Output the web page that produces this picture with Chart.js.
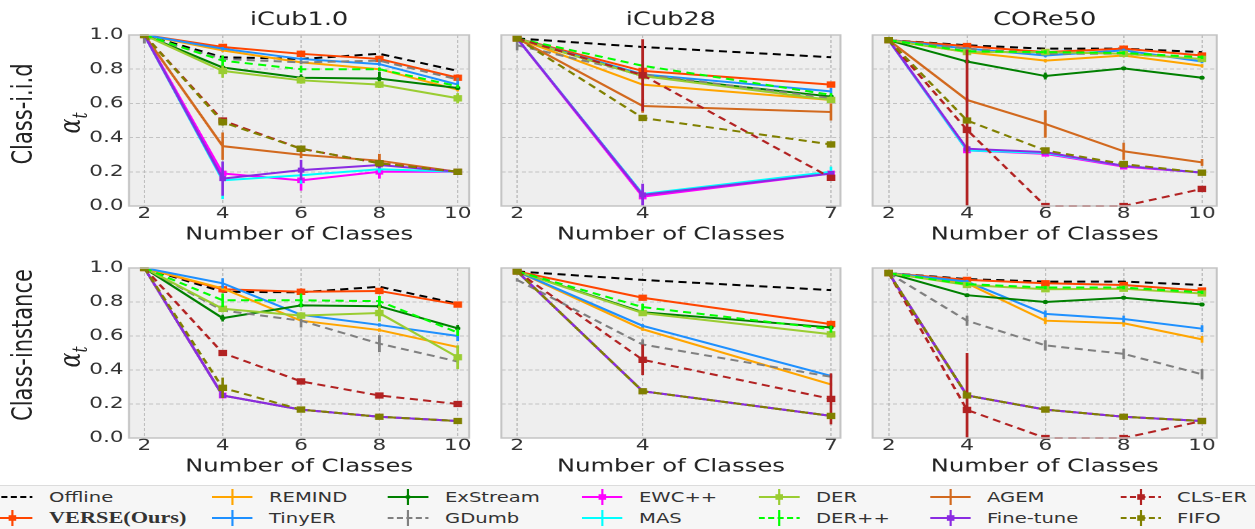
<!DOCTYPE html>
<html>
<head>
<meta charset="utf-8">
<script src="https://cdn.jsdelivr.net/npm/chart.js@4.4.1/dist/chart.umd.min.js"></script>
<style>
  html, body { margin: 0; padding: 0; background: #fff; overflow: hidden; }
  #fig { position: absolute; left: 0; top: 0; width: 930px; height: 529px;
         transform: scaleX(1.35); transform-origin: 0 0; font-family: 'DejaVu Sans'; color: #222; }
  #fig canvas { position: absolute; }
  .rowlabel { position: absolute; white-space: nowrap; font-size: 21px;
              transform: translate(-50%, -50%) rotate(-90deg); }
  .alpha { position: absolute; white-space: nowrap; font-family: 'DejaVu Serif'; font-style: italic;
           font-size: 22px; transform: translate(-50%, -50%) rotate(-90deg); }
  .alpha sub { font-size: 15px; }
  #legend { position: absolute; left: 0; top: 485px; width: 930px; height: 44px;
            background: #f6f6f6; border-top: 1px solid #dcdcdc; }
  .lgtext { position: absolute; white-space: nowrap; font-size: 14.5px; color: #333; line-height: 20px; }
  .lgicon { position: absolute; }
</style>
</head>
<body>
<div id="fig"><div id="legend"></div></div>
<script>
const methods = ['Offline', 'VERSE(Ours)', 'REMIND', 'TinyER', 'ExStream', 'GDumb', 'EWC++',
                 'MAS', 'DER', 'DER++', 'AGEM', 'Fine-tune', 'CLS-ER', 'FIFO'];
const classes10 = [2, 4, 6, 8, 10];
const classes7 = [2, 4, 7];
const yTicks = [0, 0.2, 0.4, 0.6, 0.8, 1.0];
const titles = ['iCub1.0', 'iCub28', 'CORe50'];
const settings = ['Class-i.i.d', 'Class-instance'];

// accuracy, one row per method (same order as methods)
const iidICub10 = [
  [1.00, 0.87, 0.86, 0.89, 0.79],
  [1.00, 0.93, 0.89, 0.86, 0.75],
  [1.00, 0.91, 0.84, 0.80, 0.68],
  [1.00, 0.92, 0.86, 0.83, 0.71],
  [1.00, 0.81, 0.75, 0.745, 0.69],
  [0.99, 0.86, 0.84, 0.85, 0.74],
  [1.00, 0.19, 0.15, 0.20, 0.20],
  [1.00, 0.15, 0.18, 0.215, 0.20],
  [1.00, 0.79, 0.735, 0.71, 0.63],
  [1.00, 0.85, 0.80, 0.80, 0.70],
  [1.00, 0.35, 0.30, 0.265, 0.20],
  [1.00, 0.16, 0.21, 0.24, 0.20],
  [1.00, 0.50, 0.335, 0.25, 0.20],
  [1.00, 0.49, 0.335, 0.25, 0.20]
];
const iidICub10Err = [
  [0, 0, 0, 0, 0],
  [0, 0.01, 0.01, 0.01, 0.02],
  [0, 0.01, 0.01, 0.01, 0.01],
  [0, 0.01, 0.01, 0.01, 0.02],
  [0, 0.02, 0.02, 0.04, 0.01],
  [0.04, 0.01, 0.01, 0.01, 0.01],
  [0, 0.03, 0.06, 0.04, 0.01],
  [0, 0.11, 0.05, 0.02, 0.01],
  [0, 0.04, 0.02, 0.02, 0.03],
  [0, 0.03, 0.02, 0.01, 0.01],
  [0, 0.08, 0.02, 0.04, 0.01],
  [0, 0.10, 0.06, 0.02, 0.01],
  [0, 0.01, 0.01, 0.02, 0.01],
  [0, 0.02, 0.01, 0.01, 0.01]
];

const iidICub28 = [
  [0.98, 0.93, 0.87],
  [0.98, 0.79, 0.71],
  [0.98, 0.71, 0.62],
  [0.98, 0.77, 0.67],
  [0.98, 0.76, 0.64],
  [0.94, 0.77, 0.63],
  [0.98, 0.055, 0.19],
  [0.98, 0.07, 0.20],
  [0.98, 0.76, 0.62],
  [0.98, 0.82, 0.65],
  [0.98, 0.585, 0.55],
  [0.98, 0.065, 0.19],
  [0.98, 0.765, 0.165],
  [0.98, 0.515, 0.36]
];
const iidICub28Err = [
  [0, 0, 0],
  [0, 0.01, 0.01],
  [0, 0.01, 0.01],
  [0, 0.01, 0.02],
  [0, 0.01, 0.01],
  [0.03, 0.01, 0.01],
  [0, 0.01, 0.01],
  [0, 0.02, 0.03],
  [0, 0.01, 0.01],
  [0, 0.01, 0.01],
  [0, 0.04, 0.05],
  [0, 0.065, 0.01],
  [0, 0.21, 0.01],
  [0, 0.01, 0.01]
];

const iidCore50 = [
  [0.97, 0.94, 0.92, 0.92, 0.90],
  [0.97, 0.935, 0.90, 0.92, 0.88],
  [0.97, 0.90, 0.85, 0.88, 0.82],
  [0.97, 0.92, 0.88, 0.91, 0.845],
  [0.97, 0.845, 0.76, 0.805, 0.75],
  [0.97, 0.92, 0.89, 0.89, 0.86],
  [0.97, 0.325, 0.305, 0.23, 0.195],
  [0.97, 0.325, 0.31, 0.235, 0.195],
  [0.97, 0.90, 0.90, 0.89, 0.86],
  [0.97, 0.905, 0.90, 0.895, 0.87],
  [0.97, 0.62, 0.48, 0.32, 0.255],
  [0.97, 0.335, 0.315, 0.235, 0.195],
  [0.97, 0.445, 0.00, 0.00, 0.10],
  [0.97, 0.50, 0.325, 0.245, 0.195]
];
const iidCore50Err = [
  [0, 0, 0, 0, 0],
  [0, 0.01, 0.01, 0.01, 0.01],
  [0, 0.01, 0.01, 0.01, 0.01],
  [0, 0.01, 0.01, 0.01, 0.01],
  [0, 0.01, 0.02, 0.01, 0.01],
  [0, 0.01, 0.01, 0.01, 0.01],
  [0, 0.01, 0.01, 0.01, 0.01],
  [0, 0.01, 0.01, 0.01, 0.01],
  [0, 0.01, 0.01, 0.01, 0.01],
  [0, 0.01, 0.01, 0.01, 0.01],
  [0, 0.01, 0.08, 0.05, 0.02],
  [0, 0.02, 0.01, 0.01, 0.01],
  [0, 0.47, 0, 0, 0.01],
  [0, 0.01, 0.01, 0.01, 0.01]
];

const instICub10 = [
  [1.00, 0.86, 0.857, 0.89, 0.79],
  [1.00, 0.875, 0.86, 0.865, 0.785],
  [1.00, 0.88, 0.69, 0.635, 0.535],
  [1.00, 0.91, 0.725, 0.665, 0.60],
  [1.00, 0.705, 0.78, 0.775, 0.645],
  [1.00, 0.75, 0.69, 0.555, 0.45],
  [1.00, 0.25, 0.167, 0.125, 0.10],
  [1.00, 0.25, 0.167, 0.125, 0.10],
  [1.00, 0.76, 0.72, 0.735, 0.475],
  [1.00, 0.81, 0.81, 0.805, 0.62],
  [1.00, 0.25, 0.167, 0.125, 0.10],
  [1.00, 0.25, 0.167, 0.125, 0.10],
  [1.00, 0.50, 0.333, 0.25, 0.20],
  [1.00, 0.295, 0.167, 0.125, 0.10]
];
const instICub10Err = [
  [0, 0, 0, 0, 0],
  [0, 0.02, 0.02, 0.01, 0.01],
  [0, 0.01, 0.01, 0.01, 0.01],
  [0, 0.03, 0.01, 0.01, 0.03],
  [0, 0.02, 0.01, 0.01, 0.02],
  [0, 0.01, 0.04, 0.05, 0.01],
  [0, 0.01, 0.01, 0.01, 0.01],
  [0, 0.01, 0.01, 0.01, 0.01],
  [0, 0.02, 0.02, 0.05, 0.07],
  [0, 0.04, 0.04, 0.03, 0.02],
  [0, 0.01, 0.01, 0.01, 0.01],
  [0, 0.01, 0.01, 0.01, 0.01],
  [0, 0.01, 0.01, 0.01, 0.01],
  [0, 0.06, 0.01, 0.01, 0.01]
];

const instICub28 = [
  [0.98, 0.93, 0.87],
  [0.98, 0.825, 0.67],
  [0.98, 0.64, 0.315],
  [0.98, 0.66, 0.365],
  [0.98, 0.74, 0.65],
  [0.93, 0.55, 0.36],
  [0.98, 0.275, 0.13],
  [0.98, 0.275, 0.13],
  [0.98, 0.735, 0.61],
  [0.98, 0.77, 0.64],
  [0.98, 0.275, 0.13],
  [0.98, 0.275, 0.13],
  [0.98, 0.46, 0.23],
  [0.98, 0.275, 0.13]
];
const instICub28Err = [
  [0, 0, 0],
  [0, 0.01, 0.02],
  [0, 0.01, 0.01],
  [0, 0.01, 0.01],
  [0, 0.01, 0.01],
  [0.01, 0.03, 0.01],
  [0, 0.01, 0.01],
  [0, 0.01, 0.01],
  [0, 0.01, 0.02],
  [0, 0.02, 0.02],
  [0, 0.01, 0.01],
  [0, 0.01, 0.01],
  [0, 0.09, 0.15],
  [0, 0.01, 0.01]
];

const instCore50 = [
  [0.97, 0.935, 0.92, 0.92, 0.90],
  [0.97, 0.93, 0.91, 0.90, 0.867],
  [0.97, 0.91, 0.69, 0.675, 0.58],
  [0.97, 0.92, 0.73, 0.70, 0.643],
  [0.97, 0.84, 0.80, 0.825, 0.785],
  [0.97, 0.69, 0.545, 0.495, 0.375],
  [0.97, 0.25, 0.167, 0.125, 0.10],
  [0.97, 0.25, 0.167, 0.125, 0.10],
  [0.97, 0.90, 0.875, 0.878, 0.85],
  [0.97, 0.905, 0.885, 0.885, 0.857],
  [0.97, 0.25, 0.167, 0.125, 0.10],
  [0.97, 0.25, 0.167, 0.125, 0.10],
  [0.97, 0.165, 0.00, 0.00, 0.10],
  [0.97, 0.25, 0.167, 0.125, 0.10]
];
const instCore50Err = [
  [0, 0, 0, 0, 0],
  [0, 0.01, 0.01, 0.01, 0.01],
  [0, 0.01, 0.02, 0.02, 0.02],
  [0, 0.01, 0.02, 0.02, 0.02],
  [0, 0.01, 0.01, 0.01, 0.01],
  [0, 0.03, 0.03, 0.03, 0.03],
  [0, 0.01, 0.01, 0.01, 0.01],
  [0, 0.01, 0.01, 0.01, 0.01],
  [0, 0.01, 0.01, 0.01, 0.01],
  [0, 0.01, 0.01, 0.01, 0.01],
  [0, 0.01, 0.01, 0.01, 0.01],
  [0, 0.01, 0.01, 0.01, 0.01],
  [0, 0.335, 0, 0, 0.01],
  [0, 0.01, 0.01, 0.01, 0.01]
];

// styles
const colors = ['#000000', '#ff4500', '#ffa500', '#1e90ff', '#008000', '#808080', '#ff00ff',
                '#00ffff', '#9acd32', '#00ff00', '#d2691e', '#8a2be2', '#b22222', '#808000'];
const dashed = [true, false, false, false, false, true, false, false, false, true, false, false, true, true];
const markers = [null, 'rect', null, null, 'circle', null, 'rect', null, 'rect', null, null, 'rect', 'rect', 'rect'];
const markerSize = [0, 4.5, 0, 0, 2, 0, 4, 0, 4.5, 0, 0, 3.5, 4.5, 4.5];

const S = 1.35; // the whole figure is stretched horizontally
const fig = document.getElementById('fig');

const plotBg = {
  id: 'plotBg',
  beforeDraw(chart) {
    const {ctx, chartArea: a} = chart;
    ctx.save();
    ctx.fillStyle = '#eeeeee';
    ctx.fillRect(a.left, a.top, a.width, a.height);
    ctx.restore();
  },
  afterDraw(chart) {
    const {ctx, chartArea: a} = chart;
    ctx.save();
    ctx.strokeStyle = '#c4c4c4';
    ctx.lineWidth = 1.5;
    ctx.strokeRect(a.left, a.top, a.width, a.height);
    ctx.restore();
  }
};

const errorBars = {
  id: 'errorBars',
  afterDatasetDraw(chart, args) {
    const ds = chart.data.datasets[args.index];
    if (!ds.errors) return;
    const {ctx, chartArea: a} = chart;
    const y = chart.scales.y;
    ctx.save();
    ctx.beginPath();
    ctx.rect(a.left, a.top, a.width, a.height);
    ctx.clip();
    ctx.setLineDash([]);
    ctx.strokeStyle = ds.borderColor;
    ctx.lineWidth = 2;
    args.meta.data.forEach((pt, i) => {
      const e = ds.errors[i];
      if (!e) return;
      const v = ds.data[i].y;
      ctx.beginPath();
      ctx.moveTo(pt.x, y.getPixelForValue(v - e));
      ctx.lineTo(pt.x, y.getPixelForValue(v + e));
      ctx.stroke();
    });
    ctx.restore();
  }
};

function buildDatasets(xs, vals, errs) {
  return methods.map((name, i) => ({
    label: name,
    data: xs.map((x, j) => ({x: x, y: vals[i][j]})),
    errors: errs[i],
    borderColor: colors[i],
    backgroundColor: colors[i],
    borderWidth: 2,
    borderDash: dashed[i] ? [6, 4] : [],
    pointStyle: markers[i] || 'circle',
    pointRadius: markerSize[i],
    pointHoverRadius: markerSize[i],
    pointBorderWidth: 0,
    pointBackgroundColor: colors[i],
    tension: 0,
    clip: 1,
    order: methods.length - i
  }));
}

// plot boxes in screen pixels: [left, right, top, bottom]
const panels = [
  {title: titles[0], xs: classes10, vals: iidICub10, errs: iidICub10Err, box: [129, 469, 35, 206], xr: [1.61, 10.29], yLabels: true, row: 0},
  {title: titles[1], xs: classes7, vals: iidICub28, errs: iidICub28Err, box: [501, 840, 35, 206], xr: [1.75, 7.15], yLabels: false, row: 0},
  {title: titles[2], xs: classes10, vals: iidCore50, errs: iidCore50Err, box: [873, 1217, 35, 206], xr: [1.59, 10.375], yLabels: false, row: 0},
  {title: null, xs: classes10, vals: instICub10, errs: instICub10Err, box: [129, 469, 268, 438], xr: [1.61, 10.29], yLabels: true, row: 1},
  {title: null, xs: classes7, vals: instICub28, errs: instICub28Err, box: [501, 840, 268, 438], xr: [1.75, 7.15], yLabels: false, row: 1},
  {title: null, xs: classes10, vals: instCore50, errs: instCore50Err, box: [873, 1217, 268, 438], xr: [1.59, 10.375], yLabels: false, row: 1}
];

const font = 'DejaVu Sans';

panels.forEach(p => {
  const [pl, pr, pt, pb] = p.box;
  const leftSpace = p.yLabels ? 44 : 10;
  const canvasLeft = (pl - leftSpace) / S;
  const canvasTop = p.row === 0 ? 0 : 250;
  const w = Math.ceil((pr + 15) / S - canvasLeft);
  const h = Math.ceil(pb + 37.5 - canvasTop);
  const axisH = h - (pb - canvasTop);
  const leftU = leftSpace / S;
  const rightU = w - (pr / S - canvasLeft);

  const canvas = document.createElement('canvas');
  canvas.width = w;
  canvas.height = h;
  canvas.style.left = canvasLeft + 'px';
  canvas.style.top = canvasTop + 'px';
  fig.appendChild(canvas);

  new Chart(canvas, {
    type: 'line',
    data: {datasets: buildDatasets(p.xs, p.vals, p.errs)},
    plugins: [plotBg, errorBars],
    options: {
      responsive: false,
      animation: false,
      devicePixelRatio: 2,
      events: [],
      layout: {padding: {left: p.yLabels ? 0 : leftU, right: rightU, top: p.title ? 0 : pt - canvasTop, bottom: 0}},
      plugins: {
        legend: {display: false},
        tooltip: {enabled: false},
        title: p.title ? {
          display: true, text: p.title, fullSize: false, color: '#222',
          font: {family: font, size: 19, lineHeight: 1, weight: 'normal'},
          padding: {top: 10.5, bottom: pt - canvasTop - 19 - 10.5}
        } : {display: false}
      },
      scales: {
        x: {
          type: 'linear', min: p.xr[0], max: p.xr[1],
          afterBuildTicks: ax => { ax.ticks = p.xs.map(v => ({value: v})); },
          afterFit: ax => { ax.height = axisH; ax.paddingLeft = 0; ax.paddingRight = 0; },
          grid: {color: '#b4b4b4', lineWidth: 0.8, drawTicks: false},
          border: {display: false, dash: [3, 2]},
          ticks: {padding: 0, color: '#333', font: {family: font, size: 16, lineHeight: 1}, maxRotation: 0, callback: v => String(v)},
          title: {display: true, text: 'Number of Classes', color: '#222', padding: 0,
                  font: {family: font, size: 18, lineHeight: 1}}
        },
        y: {
          min: 0, max: 1,
          afterBuildTicks: ax => { ax.ticks = yTicks.map(v => ({value: v})); },
          afterFit: ax => { ax.width = p.yLabels ? leftU : 0; ax.paddingTop = 0; ax.paddingBottom = 0; },
          grid: {color: '#b4b4b4', lineWidth: 0.8, drawTicks: false},
          border: {display: false, dash: [3, 2]},
          ticks: {display: p.yLabels, padding: 4, color: '#333', font: {family: font, size: 16}, callback: v => v.toFixed(1)}
        }
      }
    }
  });
});

// row labels and y-axis symbol
function addText(cls, html, x, y) {
  const d = document.createElement('div');
  d.className = cls;
  d.innerHTML = html;
  d.style.left = (x / S) + 'px';
  d.style.top = y + 'px';
  fig.appendChild(d);
}
addText('rowlabel', settings[0], 23.5, 114);
addText('rowlabel', settings[1], 23.5, 345);
addText('alpha', '&alpha;<sub>t</sub>', 73, 123);
addText('alpha', '&alpha;<sub>t</sub>', 73, 357);

// shared legend, filled column by column
const legend = document.getElementById('legend');
const legendCols = [49, 269, 445, 639, 816, 987, 1177];
const legendRows = [11, 32];
methods.forEach((name, i) => {
  const col = Math.floor(i / 2), row = i % 2;
  const lx = legendCols[col], cy = legendRows[row];
  const iconW = 41 / S;
  const mid = iconW / 2;
  let svg = '<svg width="' + iconW + '" height="20">';
  svg += '<line x1="0" y1="10" x2="' + iconW + '" y2="10" stroke="' + colors[i] + '" stroke-width="2"' +
         (dashed[i] ? ' stroke-dasharray="4.5,2.5"' : '') + '/>';
  if (i > 0) svg += '<line x1="' + mid + '" y1="2" x2="' + mid + '" y2="18" stroke="' + colors[i] + '" stroke-width="1.6"/>';
  if (markers[i]) {
    const r = markers[i] === 'rect' ? 2.8 : 1.6;
    svg += '<rect x="' + (mid - r) + '" y="' + (10 - r) + '" width="' + 2 * r + '" height="' + 2 * r + '" fill="' + colors[i] + '"/>';
  }
  svg += '</svg>';
  const icon = document.createElement('div');
  icon.className = 'lgicon';
  icon.innerHTML = svg;
  icon.style.left = ((lx - 57) / S) + 'px';
  icon.style.top = (cy - 10) + 'px';
  legend.appendChild(icon);

  const t = document.createElement('div');
  t.className = 'lgtext';
  t.style.left = (lx / S) + 'px';
  t.style.top = (cy - 10) + 'px';
  if (i === 1) {
    t.innerHTML = '<span style="font-family:\'Liberation Serif\';font-weight:bold;font-size:16.5px">VERSE(Ours)</span>';
  } else {
    t.textContent = name;
  }
  legend.appendChild(t);
});
</script>
</body>
</html>
